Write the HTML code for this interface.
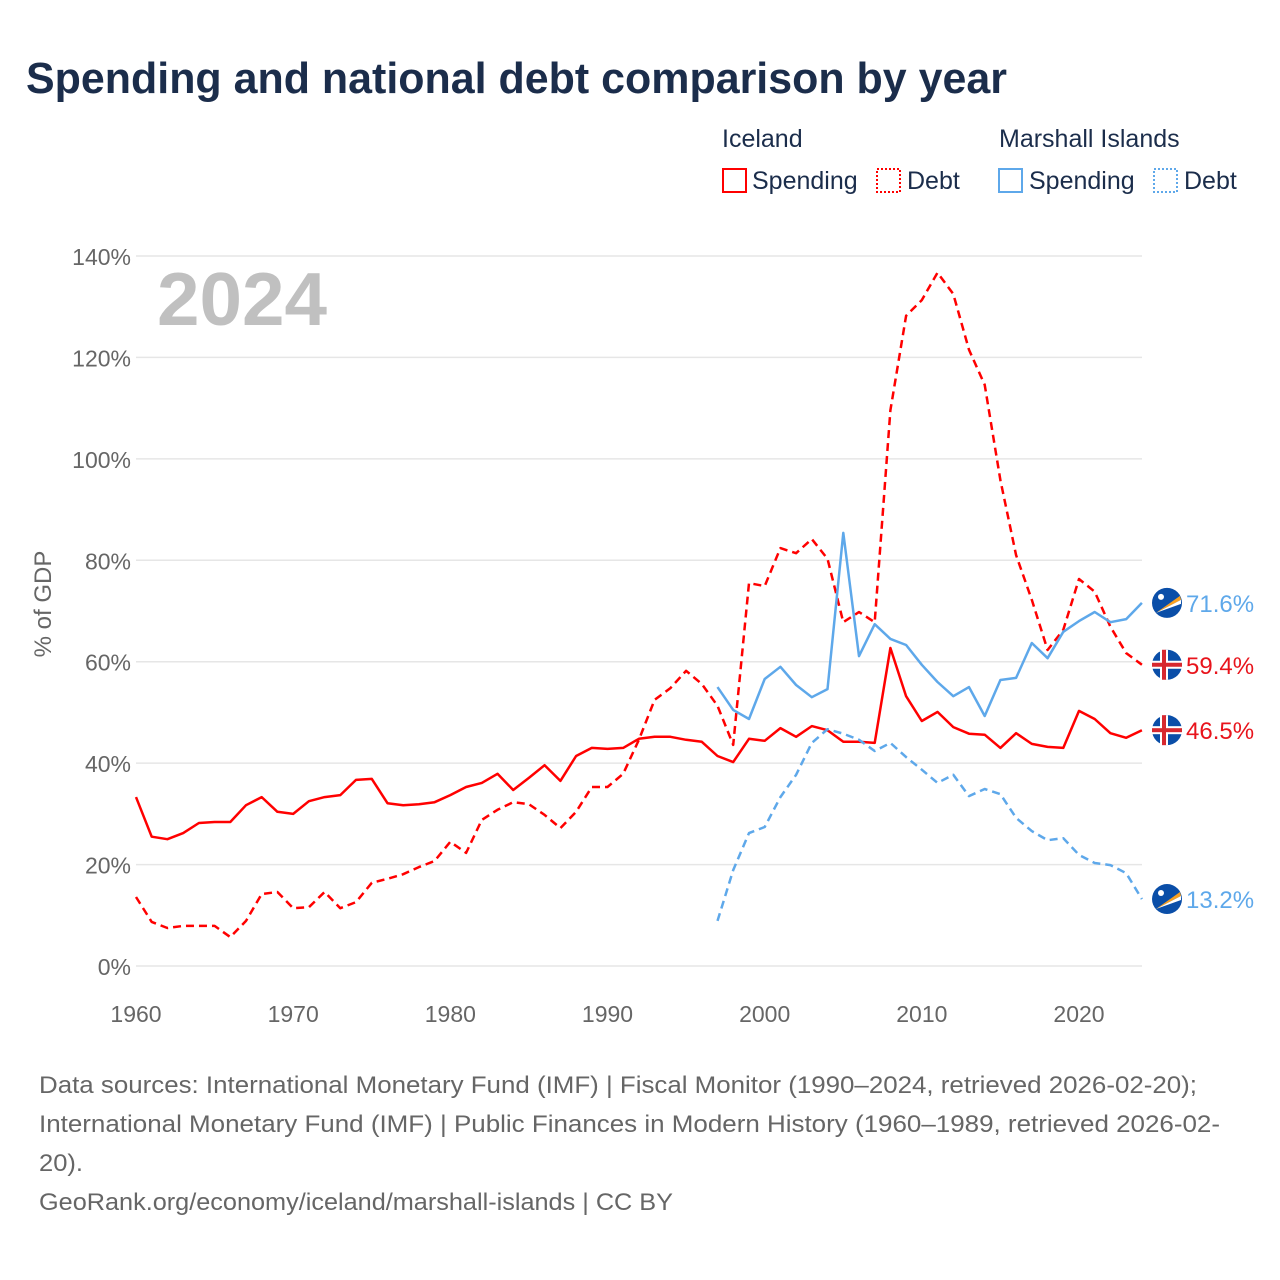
<!DOCTYPE html>
<html><head><meta charset="utf-8">
<style>
body{margin:0;background:#fff;font-family:"Liberation Sans",sans-serif;}
#wrap{position:relative;width:1280px;height:1280px;overflow:hidden;}
</style></head>
<body>
<div id="wrap">
<svg id="chart" width="1280" height="1280" xmlns="http://www.w3.org/2000/svg">
<text x="26" y="93" font-size="44" font-weight="bold" fill="#1b2d4b" textLength="981" lengthAdjust="spacingAndGlyphs">Spending and national debt comparison by year</text>
<g font-size="25" fill="#1b2d4b">
<text x="722" y="147">Iceland</text>
<text x="999" y="147">Marshall Islands</text>
<g><rect x="723" y="169" width="23" height="23" fill="none" stroke="#ff0000" stroke-width="2"/><text x="752" y="189">Spending</text></g>
<g><rect x="877" y="169" width="23" height="23" fill="none" stroke="#ff0000" stroke-width="2" stroke-dasharray="2,2"/><text x="907" y="189">Debt</text></g>
<g><rect x="999" y="169" width="23" height="23" fill="none" stroke="#5ea8ea" stroke-width="2"/><text x="1029" y="189">Spending</text></g>
<g><rect x="1154" y="169" width="23" height="23" fill="none" stroke="#5ea8ea" stroke-width="2" stroke-dasharray="2,2"/><text x="1184" y="189">Debt</text></g>
</g>
<text x="157" y="325" font-size="75" font-weight="bold" fill="#c0c0c0" textLength="170" lengthAdjust="spacingAndGlyphs">2024</text>
<text transform="translate(51,604) rotate(-90)" font-size="24" fill="#666" text-anchor="middle">% of GDP</text>
<g id="grid"></g><g id="series"></g><g id="ends"></g>
<g font-size="24" fill="#666">
<text x="39" y="1093" textLength="1158" lengthAdjust="spacingAndGlyphs">Data sources: International Monetary Fund (IMF) | Fiscal Monitor (1990–2024, retrieved 2026-02-20);</text>
<text x="39" y="1132" textLength="1181" lengthAdjust="spacingAndGlyphs">International Monetary Fund (IMF) | Public Finances in Modern History (1960–1989, retrieved 2026-02-</text>
<text x="39" y="1171" textLength="44" lengthAdjust="spacingAndGlyphs">20).</text>
<text x="39" y="1210" textLength="634" lengthAdjust="spacingAndGlyphs">GeoRank.org/economy/iceland/marshall-islands | CC BY</text>
</g>
</svg>
</div>
<script>
const yTicks=[0,20,40,60,80,100,120,140];
const xTicks=[1960,1970,1980,1990,2000,2010,2020];
const isYears0=1960;
const iceSpending=[33.3,25.5,25,26.2,28.2,28.4,28.4,31.7,33.3,30.4,30,32.5,33.3,33.7,36.7,36.9,32.1,31.7,31.9,32.3,33.7,35.3,36.1,37.9,34.7,37.1,39.6,36.5,41.4,43,42.8,43,44.8,45.2,45.2,44.6,44.2,41.4,40.2,44.8,44.4,46.9,45.2,47.3,46.5,44.2,44.2,44,62.7,53.2,48.3,50.1,47.1,45.8,45.6,43,45.9,43.8,43.2,43,50.3,48.7,45.9,45,46.5];
const iceDebt=[13.6,8.7,7.5,7.9,7.9,7.9,5.7,8.9,14.2,14.6,11.4,11.6,14.6,11.4,12.6,16.4,17.2,18.1,19.5,20.7,24.5,22.3,28.8,30.8,32.3,31.9,29.8,27.2,30.4,35.3,35.3,37.9,44.6,52.5,54.8,58.2,55.6,51.3,43.6,75.5,74.9,82.4,81.4,84.2,80.3,67.8,69.8,67.8,109.6,128.2,131.3,136.7,132.5,121.5,114.6,95.8,81,72.2,62.3,66.3,76.3,73.8,66.9,61.7,59.4];
const mhStart=1997;
const mhSpending=[55,50.5,48.7,56.6,59,55.4,53,54.6,85.4,61.1,67.4,64.5,63.3,59.4,56,53.2,55,49.3,56.4,56.8,63.7,60.7,65.9,68,69.8,67.8,68.4,71.6];
const mhDebt=[8.9,18.9,26.2,27.4,33.3,37.7,44,46.7,45.8,44.6,42.4,44,41.2,38.7,36.1,37.7,33.5,34.9,33.9,29.2,26.6,24.8,25.2,21.9,20.3,19.9,18.3,13.2];

const NS="http://www.w3.org/2000/svg";
const X=y=>136+(y-1960)*(1079-136)/60;
const Y=v=>966-v*(966-256)/140;
function mk(t,a,p){const e=document.createElementNS(NS,t);for(const k in a)e.setAttribute(k,a[k]);p.appendChild(e);return e;}
const grid=document.getElementById('grid');
yTicks.forEach(v=>{
  const l=mk('line',{x1:136,x2:1142,y1:Y(v),y2:Y(v),stroke:'#e6e6e6','stroke-width':1.5},grid);
  
  
  const t=mk('text',{x:131,y:Y(v)+9,'font-size':23,fill:'#666','text-anchor':'end'},grid);
  t.textContent=v+'%';
  
  
});
xTicks.forEach(v=>{
  const t=mk('text',{x:X(v),y:1022,'font-size':23,fill:'#666','text-anchor':'middle'},grid);
  t.textContent=v;
  
  
});
const S=document.getElementById('series');
function line(vals,start,color,dash,name){
  const d=vals.map((v,i)=>(i?'L':'M')+X(start+i).toFixed(1)+','+Y(v).toFixed(1)).join('');
  const p=mk('path',{d:d,fill:'none',stroke:color,'stroke-width':2.5,'stroke-linejoin':'round'},S);
  if(dash)p.setAttribute('stroke-dasharray','8,5');
  
  
}
line(iceDebt,isYears0,'#ff0000',true,'iceland-debt-line');
line(iceSpending,isYears0,'#ff0000',false,'iceland-spending-line');
line(mhDebt,mhStart,'#5ea8ea',true,'marshall-debt-line');
line(mhSpending,mhStart,'#5ea8ea',false,'marshall-spending-line');
const E=document.getElementById('ends');
function flag(v,type,color,name){
  const cx=1167,cy=Y(v);
  const g=mk('g',{},E);
  
  
  mk('circle',{cx:cx,cy:cy,r:15,fill:'#0a4ea8'},g);
  if(type==='is'){
    mk('rect',{x:cx-15,y:cy-4,width:30,height:8,fill:'#fff'},g);
    mk('rect',{x:cx-7,y:cy-15,width:8,height:30,fill:'#fff'},g);
    mk('rect',{x:cx-15,y:cy-2,width:30,height:4,fill:'#d7282f'},g);
    mk('rect',{x:cx-5,y:cy-15,width:4,height:30,fill:'#d7282f'},g);
  }else{
    mk('path',{d:`M${cx-11},${cy+10}L${cx+13},${cy-7}L${cx+14},${cy-3}Z`,fill:'#f8a020'},g);
    mk('path',{d:`M${cx-11},${cy+10}L${cx+14},${cy-3}L${cx+14},${cy+1}Z`,fill:'#fff'},g);
    mk('circle',{cx:cx-6,cy:cy-6,r:3,fill:'#fff'},g);
  }
  const t=mk('text',{x:1186,y:cy+9,'font-size':24,fill:color},E);
  t.textContent=v.toFixed(1)+'%';
  
  
}
flag(mhSpending[mhSpending.length-1],'mh','#5ea8ea','marshall-spending-end');
flag(iceDebt[iceDebt.length-1],'is','#e8141c','iceland-debt-end');
flag(iceSpending[iceSpending.length-1],'is','#e8141c','iceland-spending-end');
flag(mhDebt[mhDebt.length-1],'mh','#5ea8ea','marshall-debt-end');
</script>
</body></html>
